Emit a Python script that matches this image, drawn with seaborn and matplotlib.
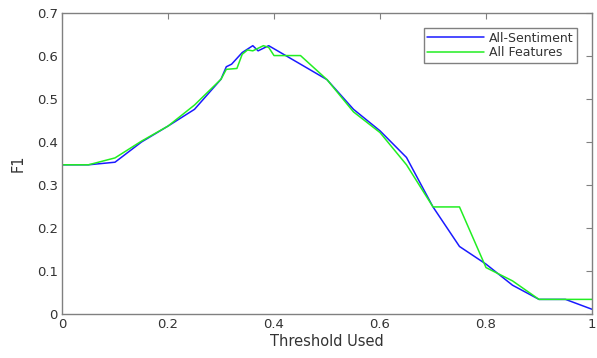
import pandas as pd
import matplotlib
matplotlib.use("Agg")
import matplotlib.pyplot as plt
import seaborn as sns

# threshold values and F1 scores
sent_x = [0, 0.05, 0.1, 0.15, 0.2, 0.25, 0.3, 0.31, 0.32, 0.34, 0.36, 0.37, 0.39,
          0.45, 0.5, 0.55, 0.6, 0.65, 0.7, 0.75, 0.8, 0.85, 0.9, 0.95, 1.0]
sent_f1 = [0.347, 0.347, 0.353, 0.400, 0.437, 0.476, 0.546, 0.575, 0.581, 0.608, 0.624, 0.612, 0.624,
           0.581, 0.545, 0.476, 0.426, 0.364, 0.249, 0.157, 0.116, 0.067, 0.034, 0.034, 0.011]

feat_x = [0, 0.05, 0.1, 0.15, 0.2, 0.25, 0.3, 0.31, 0.33, 0.34, 0.35, 0.36, 0.38, 0.39,
          0.4, 0.45, 0.5, 0.55, 0.6, 0.65, 0.7, 0.75, 0.8, 0.85, 0.9, 0.95, 1.0]
feat_f1 = [0.347, 0.347, 0.363, 0.402, 0.437, 0.486, 0.546, 0.569, 0.571, 0.604, 0.614, 0.612, 0.624, 0.620,
           0.601, 0.601, 0.545, 0.470, 0.422, 0.347, 0.249, 0.249, 0.108, 0.077, 0.034, 0.034, 0.034]

x_ticks = [0, 0.2, 0.4, 0.6, 0.8, 1]
x_labels = ["0", "0.2", "0.4", "0.6", "0.8", "1"]
y_ticks = [0, 0.1, 0.2, 0.3, 0.4, 0.5, 0.6, 0.7]
y_labels = ["0", "0.1", "0.2", "0.3", "0.4", "0.5", "0.6", "0.7"]

sns.set_style("white")
plt.rcParams['font.family'] = ['DejaVu Sans']

fig = plt.figure(figsize=(5.97, 3.58), dpi=100)
ax = fig.add_axes([62 / 597, 1 - 314 / 358, 530 / 597, 301 / 358])

df_sent = pd.DataFrame({'x': sent_x, 'y': sent_f1})
df_feat = pd.DataFrame({'x': feat_x, 'y': feat_f1})
sns.lineplot(data=df_sent, x='x', y='y', ax=ax, color='#1a1aff', lw=1.1,
             estimator=None, sort=False, label='All-Sentiment')
sns.lineplot(data=df_feat, x='x', y='y', ax=ax, color='#22ee22', lw=1.1,
             estimator=None, sort=False, label='All Features')

ax.set_xlim(0, 1)
ax.set_ylim(0, 0.7)
ax.set_xticks(x_ticks)
ax.set_xticklabels(x_labels)
ax.set_yticks(y_ticks)
ax.set_yticklabels(y_labels)
ax.set_xlabel('Threshold Used', fontsize=10.5, color='#333333', labelpad=2)
ax.set_ylabel('F1', fontsize=10.5, color='#333333', labelpad=8)

for s in ax.spines.values():
    s.set_color('#808080')
    s.set_linewidth(1)
ax.tick_params(direction='in', length=4, width=0.8, color='#808080',
               labelsize=9.5, labelcolor='#333333', top=True, right=True, pad=3)

leg = ax.legend(loc='upper right', fontsize=9, fancybox=False, framealpha=1,
                edgecolor='#808080', borderpad=0.3, handlelength=4.5,
                handletextpad=0.4, labelspacing=0.1, borderaxespad=1.2)
leg.get_frame().set_linewidth(1)
for t in leg.get_texts():
    t.set_color('#333333')

fig.savefig('out.png', dpi=100)
